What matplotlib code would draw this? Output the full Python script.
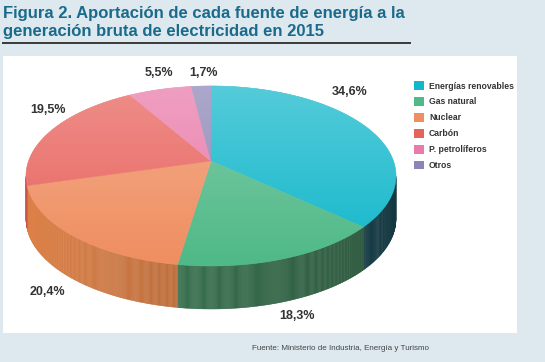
import numpy as np
import matplotlib
matplotlib.use("Agg")
import matplotlib.pyplot as plt
from matplotlib.patches import Polygon, Rectangle, Patch
from matplotlib.colors import to_rgb

plt.rcParams['font.family'] = ['Liberation Sans', 'DejaVu Sans']

# data
labels = ["Energías renovables", "Gas natural", "Nuclear", "Carbón",
          "P. petrolíferos", "Otros"]
values = [34.6, 18.3, 20.4, 19.5, 5.5, 1.7]
value_text = ["34,6%", "18,3%", "20,4%", "19,5%", "5,5%", "1,7%"]
colors = ["#12b7cb", "#4fb987", "#ef8e60", "#e8625c", "#e97aa9", "#8c86b6"]
side_colors = ["#1b4c58", "#3b7552", "#c5733f", "#b54a45", "#b05a80", "#655f8a"]

# layout (pixels)
W, H = 545, 362
cx, cy, rx, ry = 211, 176, 185, 90   # ellipse of the top face
apex = (211, 161)                    # where the slices meet (perspective)
depth = 43
label_pos = [(350, 92), (297, 316), (47, 292), (48, 110), (159, 73), (204, 73)]

fig = plt.figure(figsize=(W / 100, H / 100), dpi=100)
fig.patch.set_facecolor("#dde9ee")
ax = fig.add_axes([0, 0, 1, 1])
ax.set_xlim(0, W)
ax.set_ylim(H, 0)
ax.axis("off")

# white panel
ax.add_patch(Rectangle((3, 56), 514, 277, facecolor="white", edgecolor="none", zorder=0))

# title
ax.text(3, 6, "Figura 2. Aportación de cada fuente de energía a la\ngeneración bruta de electricidad en 2015",
        fontsize=12, fontweight="bold", color="#1a6a8c", va="top", ha="left",
        linespacing=1.25, zorder=3)
ax.plot([2, 411], [43, 43], color="#2b2b2b", lw=1.3, solid_capstyle="butt", zorder=3)


def pt(theta, dy=0.0):
    return cx + rx * np.cos(theta), cy - ry * np.sin(theta) + dy


# slice angles: start at top, go clockwise
fracs = np.array(values) / sum(values)
ends = np.pi / 2 - 2 * np.pi * np.cumsum(fracs)
starts = np.concatenate([[np.pi / 2], ends[:-1]])

# sides (front half only), drawn in thin strips with shading
for i in range(len(values)):
    th = np.linspace(starts[i], ends[i], 200)
    for k in range(len(th) - 1):
        t0, t1 = th[k], th[k + 1]
        tm = (t0 + t1) / 2
        if np.sin(tm) >= 0:
            continue
        shade = 1.0 - 0.35 * (np.cos(tm) + 1) / 2
        c = np.clip(np.array(to_rgb(side_colors[i])) * shade * 1.12, 0, 1)
        x0, y0 = pt(t0)
        x1, y1 = pt(t1)
        ax.add_patch(Polygon([(x0, y0), (x1, y1), (x1, y1 + depth), (x0, y0 + depth)],
                             closed=True, facecolor=c, edgecolor=c, lw=0.3, zorder=1))

# top faces
for i in range(len(values)):
    th = np.linspace(starts[i], ends[i], 200)
    xs, ys = pt(th)
    verts = [apex] + list(zip(xs, ys))
    ax.add_patch(Polygon(verts, closed=True, facecolor=colors[i], edgecolor=colors[i],
                         lw=0.4, zorder=2))

# soft highlight on the top face
th = np.linspace(0, 2 * np.pi, 400)
ex, ey = pt(th)
clip = Polygon(list(zip(ex, ey)), closed=True, facecolor="none", edgecolor="none")
ax.add_patch(clip)
grad = np.zeros((100, 2, 4))
grad[..., :3] = 1.0
grad[..., 3] = np.linspace(0.28, 0.0, 100)[:, None]
im = ax.imshow(grad, extent=(cx - rx, cx + rx, cy + ry, cy - ry), aspect="auto",
               zorder=2.5, interpolation="bilinear")
im.set_clip_path(clip)
ax.set_xlim(0, W)
ax.set_ylim(H, 0)

# percentage labels
for (lx, ly), t in zip(label_pos, value_text):
    ax.text(lx, ly, t, fontsize=9, fontweight="bold", color="#333333",
            ha="center", va="center", zorder=4)

# legend
handles = [Patch(facecolor=c, edgecolor="none") for c in colors]
leg = ax.legend(handles, labels, loc="upper left", bbox_to_anchor=(411 / W, 1 - 78 / H),
                frameon=False, fontsize=6.2, handlelength=1.1, handleheight=1.1,
                handletextpad=0.6, labelspacing=0.8, borderaxespad=0)
for t in leg.get_texts():
    t.set_color("#333333")
    t.set_fontweight("bold")

# source
ax.text(341, 349, "Fuente: Ministerio de Industria, Energía y Turismo", fontsize=5.8,
        color="#444444", ha="center", va="center")

fig.savefig("out.png", dpi=100, facecolor=fig.get_facecolor())
